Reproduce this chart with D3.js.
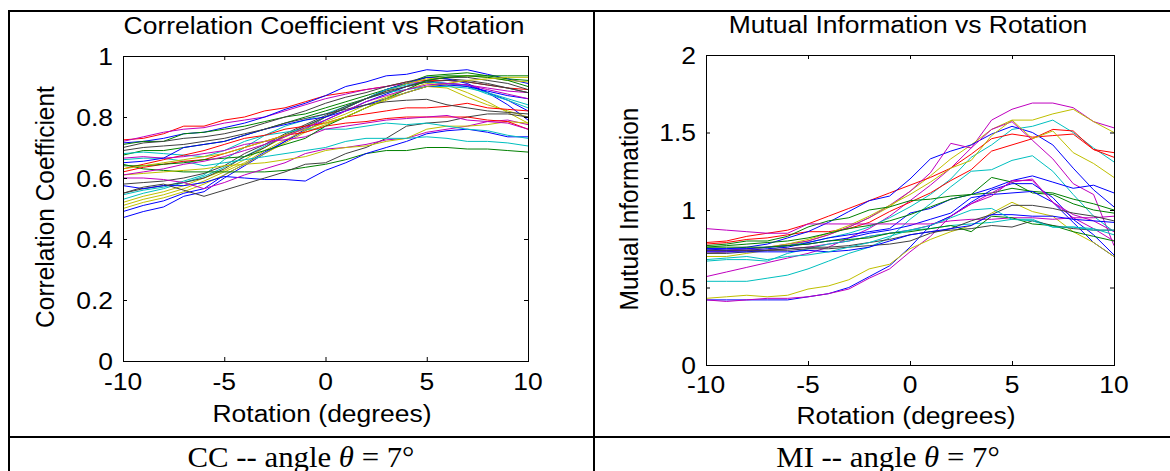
<!DOCTYPE html>
<html>
<head>
<meta charset="utf-8">
<script src="https://cdnjs.cloudflare.com/ajax/libs/d3/7.8.5/d3.min.js"></script>
<style>
  body { margin: 0; background: #fff; }
  svg { display: block; }
  .sans { font-family: Arial, "Liberation Sans", sans-serif; fill: #000; }
  .serif { font-family: "Times New Roman", "Liberation Serif", serif; fill: #000; }
</style>
</head>
<body>
<div id="chart"></div>
<script>
// x positions shared by every curve (degrees)
var rotation = [-10, -9, -8, -7, -6, -5, -4, -3, -2, -1, 0, 1, 2, 3, 4, 5, 6, 7, 8, 9, 10];
var xTicks = [-10, -5, 0, 5, 10];
var ccTicks = [0, 0.2, 0.4, 0.6, 0.8, 1];
var miTicks = [0, 0.5, 1, 1.5, 2];

// Correlation coefficient curves
var cc01 = [0.725,0.73,0.745,0.77,0.77,0.79,0.80,0.82,0.83,0.85,0.87,0.88,0.89,0.90,0.915,0.92,0.92,0.915,0.905,0.895,0.89];
var cc02 = [0.72,0.735,0.75,0.76,0.765,0.78,0.79,0.80,0.82,0.84,0.86,0.875,0.89,0.90,0.91,0.915,0.91,0.905,0.895,0.885,0.88];
var cc03 = [0.715,0.72,0.73,0.745,0.75,0.765,0.78,0.80,0.825,0.845,0.87,0.90,0.915,0.935,0.94,0.955,0.95,0.955,0.94,0.925,0.91];
var cc04 = [0.71,0.72,0.72,0.745,0.75,0.76,0.77,0.785,0.80,0.81,0.83,0.85,0.87,0.89,0.91,0.935,0.94,0.945,0.935,0.925,0.92];
var cc05 = [0.70,0.715,0.72,0.73,0.735,0.745,0.76,0.78,0.80,0.82,0.845,0.865,0.88,0.90,0.915,0.93,0.925,0.92,0.91,0.895,0.88];
var cc06 = [0.675,0.69,0.69,0.70,0.71,0.72,0.74,0.76,0.78,0.80,0.82,0.84,0.86,0.89,0.91,0.93,0.935,0.935,0.935,0.935,0.935];
var cc07 = [0.47,0.49,0.505,0.54,0.555,0.60,0.64,0.68,0.72,0.76,0.80,0.83,0.86,0.89,0.91,0.93,0.925,0.91,0.88,0.855,0.82];
var cc08 = [0.49,0.51,0.525,0.55,0.565,0.61,0.645,0.685,0.72,0.755,0.79,0.82,0.85,0.875,0.90,0.915,0.91,0.905,0.88,0.84,0.79];
var cc09 = [0.50,0.52,0.535,0.555,0.58,0.61,0.645,0.68,0.715,0.75,0.775,0.80,0.83,0.855,0.88,0.90,0.895,0.865,0.84,0.82,0.80];
var cc10 = [0.51,0.53,0.545,0.565,0.59,0.62,0.65,0.69,0.725,0.755,0.785,0.81,0.84,0.865,0.89,0.91,0.905,0.88,0.85,0.815,0.78];
var cc11 = [0.52,0.54,0.555,0.575,0.60,0.625,0.66,0.70,0.735,0.765,0.80,0.83,0.86,0.885,0.91,0.925,0.93,0.935,0.93,0.92,0.915];
var cc12 = [0.53,0.55,0.565,0.585,0.605,0.635,0.67,0.705,0.74,0.77,0.80,0.83,0.86,0.89,0.905,0.915,0.91,0.90,0.875,0.855,0.83];
var cc13 = [0.545,0.56,0.57,0.59,0.61,0.66,0.70,0.74,0.77,0.79,0.81,0.835,0.86,0.88,0.89,0.90,0.90,0.895,0.88,0.86,0.84];
var cc14 = [0.55,0.565,0.575,0.585,0.60,0.63,0.67,0.70,0.74,0.77,0.80,0.83,0.86,0.88,0.90,0.92,0.93,0.93,0.92,0.91,0.89];
var cc15 = [0.58,0.585,0.59,0.60,0.615,0.64,0.68,0.71,0.745,0.775,0.805,0.835,0.86,0.885,0.90,0.915,0.92,0.915,0.905,0.895,0.88];
var cc16 = [0.645,0.63,0.625,0.62,0.62,0.62,0.62,0.62,0.625,0.635,0.645,0.66,0.68,0.69,0.69,0.70,0.70,0.695,0.695,0.69,0.685];
var cc17 = [0.575,0.565,0.575,0.575,0.585,0.605,0.60,0.595,0.595,0.59,0.625,0.65,0.68,0.70,0.72,0.745,0.755,0.76,0.75,0.735,0.735];
var cc18 = [0.55,0.57,0.58,0.56,0.54,0.56,0.58,0.60,0.62,0.645,0.65,0.68,0.70,0.73,0.77,0.78,0.785,0.80,0.81,0.81,0.80];
var cc19 = [0.60,0.60,0.595,0.585,0.565,0.585,0.61,0.63,0.65,0.68,0.695,0.70,0.71,0.725,0.73,0.75,0.76,0.77,0.785,0.79,0.775];
var cc20 = [0.61,0.615,0.62,0.625,0.63,0.64,0.645,0.65,0.66,0.67,0.69,0.70,0.705,0.72,0.73,0.76,0.77,0.77,0.775,0.785,0.78];
var cc21 = [0.66,0.665,0.665,0.655,0.64,0.65,0.66,0.67,0.68,0.69,0.70,0.72,0.73,0.73,0.73,0.735,0.73,0.72,0.72,0.715,0.705];
var cc22 = [0.68,0.685,0.68,0.675,0.67,0.69,0.72,0.74,0.75,0.76,0.76,0.76,0.77,0.78,0.775,0.78,0.77,0.76,0.755,0.74,0.73];
var cc23 = [0.62,0.635,0.645,0.655,0.66,0.68,0.70,0.72,0.74,0.75,0.77,0.78,0.785,0.795,0.80,0.80,0.80,0.80,0.79,0.785,0.76];
var cc24 = [0.63,0.645,0.66,0.675,0.69,0.71,0.73,0.74,0.76,0.77,0.78,0.80,0.81,0.82,0.83,0.83,0.835,0.845,0.83,0.825,0.82];
var cc25 = [0.665,0.67,0.665,0.67,0.68,0.69,0.71,0.72,0.725,0.735,0.76,0.77,0.78,0.79,0.795,0.80,0.805,0.79,0.785,0.78,0.76];
var cc26 = [0.65,0.655,0.665,0.70,0.71,0.72,0.74,0.76,0.775,0.79,0.80,0.82,0.84,0.86,0.88,0.90,0.905,0.90,0.885,0.87,0.86];
var cc27 = [0.69,0.70,0.705,0.71,0.72,0.73,0.745,0.76,0.78,0.795,0.81,0.825,0.84,0.85,0.855,0.858,0.84,0.83,0.82,0.815,0.81];
var cc28 = [0.64,0.64,0.645,0.65,0.66,0.665,0.67,0.69,0.71,0.73,0.77,0.80,0.83,0.86,0.89,0.92,0.93,0.935,0.93,0.92,0.90];
var cc29 = [0.63,0.64,0.65,0.66,0.67,0.68,0.70,0.72,0.74,0.76,0.78,0.80,0.83,0.86,0.88,0.90,0.91,0.92,0.925,0.93,0.93];
var cc30 = [0.61,0.62,0.63,0.645,0.655,0.67,0.69,0.71,0.735,0.765,0.79,0.82,0.85,0.87,0.89,0.905,0.91,0.905,0.89,0.875,0.86];
var ccSeries = [cc01,cc02,cc03,cc04,cc05,cc06,cc07,cc08,cc09,cc10,cc11,cc12,cc13,cc14,cc15,
                cc16,cc17,cc18,cc19,cc20,cc21,cc22,cc23,cc24,cc25,cc26,cc27,cc28,cc29,cc30];
var ccColorCodes = ['r','m','b','g','k','g','b','b','y','y','y','c','c','k','k',
                    'g','b','k','m','y','c','c','r','r','m','b','k','g','y','m'];

// Mutual information curves
var mi01 = [0.57,0.60,0.63,0.66,0.69,0.72,0.76,0.82,0.88,0.96,1.06,1.16,1.27,1.40,1.58,1.65,1.69,1.69,1.66,1.57,1.53];
var mi02 = [0.70,0.70,0.72,0.74,0.77,0.80,0.84,0.89,0.95,1.02,1.12,1.22,1.33,1.42,1.52,1.58,1.58,1.62,1.65,1.57,1.50];
var mi03 = [0.74,0.74,0.75,0.76,0.77,0.79,0.82,0.85,0.89,0.95,1.02,1.10,1.20,1.34,1.42,1.52,1.54,1.58,1.50,1.40,1.31];
var mi04 = [0.79,0.80,0.83,0.85,0.87,0.91,0.96,1.01,1.06,1.11,1.16,1.21,1.27,1.36,1.46,1.49,1.47,1.48,1.49,1.39,1.37];
var mi05 = [0.78,0.79,0.81,0.82,0.84,0.86,0.86,0.88,0.92,0.99,1.05,1.11,1.19,1.26,1.38,1.42,1.46,1.52,1.51,1.39,1.34];
var mi06 = [0.75,0.75,0.76,0.78,0.82,0.86,0.92,0.99,1.06,1.09,1.20,1.33,1.38,1.42,1.49,1.54,1.50,1.42,1.27,1.13,1.02];
var mi07 = [0.74,0.74,0.75,0.76,0.78,0.80,0.84,0.89,0.95,1.03,1.12,1.24,1.43,1.40,1.52,1.57,1.45,1.33,1.17,1.10,0.77];
var mi08 = [0.72,0.73,0.74,0.76,0.78,0.81,0.85,0.90,0.96,1.03,1.10,1.18,1.27,1.32,1.48,1.58,1.46,1.51,1.37,1.30,1.21];
var mi09 = [0.54,0.54,0.54,0.56,0.58,0.62,0.67,0.72,0.76,0.82,0.94,1.04,1.15,1.25,1.26,1.32,1.35,1.25,1.10,0.96,0.86];
var mi10 = [0.75,0.74,0.74,0.75,0.76,0.79,0.82,0.84,0.86,0.88,0.98,1.01,1.07,1.10,1.14,1.19,1.22,1.18,1.14,1.16,1.11];
var mi11 = [0.76,0.77,0.78,0.79,0.80,0.82,0.85,0.88,0.90,0.93,0.97,1.02,1.07,1.10,1.21,1.18,1.11,1.10,1.04,1.00,0.98];
var mi12 = [0.77,0.78,0.80,0.80,0.83,0.89,0.93,0.95,1.00,1.02,1.06,1.07,1.09,1.10,1.11,1.14,1.12,1.11,1.07,1.04,1.00];
var mi13 = [0.75,0.75,0.75,0.76,0.77,0.78,0.80,0.82,0.85,0.87,0.90,0.94,0.98,1.08,1.10,1.11,1.12,1.05,0.92,0.79,0.70];
var mi14 = [0.73,0.73,0.74,0.74,0.75,0.76,0.78,0.80,0.83,0.85,0.87,0.90,0.96,1.04,1.09,1.19,1.19,1.05,0.95,0.88,0.80];
var mi15 = [0.42,0.42,0.42,0.42,0.42,0.44,0.46,0.50,0.57,0.64,0.76,0.90,0.96,1.05,1.13,1.17,1.17,1.08,0.94,0.84,0.71];
var mi16 = [0.42,0.41,0.42,0.43,0.43,0.44,0.46,0.49,0.56,0.62,0.73,0.83,0.96,1.04,1.11,1.18,1.20,1.05,0.97,0.93,0.86];
var mi17 = [0.43,0.44,0.45,0.44,0.45,0.49,0.51,0.55,0.62,0.65,0.75,0.81,0.86,0.90,0.98,1.05,0.99,0.96,0.86,0.79,0.70];
var mi18 = [0.88,0.87,0.86,0.85,0.85,0.91,0.91,0.91,0.91,0.91,0.91,0.91,0.93,0.94,0.94,0.95,0.95,0.94,0.95,0.95,0.96];
var mi19 = [0.67,0.68,0.68,0.67,0.72,0.75,0.78,0.80,0.83,0.85,0.87,0.88,0.90,0.91,0.92,0.94,0.94,0.89,0.89,0.88,0.84];
var mi20 = [0.74,0.74,0.74,0.74,0.74,0.75,0.75,0.76,0.77,0.78,0.80,0.85,0.88,0.93,0.97,1.03,1.03,1.01,0.98,0.96,0.93];
var mi21 = [0.72,0.72,0.73,0.74,0.75,0.76,0.76,0.77,0.79,0.81,0.84,0.86,0.87,0.88,0.90,0.89,0.93,0.90,0.88,0.87,0.87];
var mi22 = [0.76,0.76,0.76,0.76,0.77,0.78,0.80,0.81,0.82,0.85,0.86,0.88,0.90,0.86,0.96,0.95,0.91,0.90,0.86,0.83,0.80];
var mi23 = [0.73,0.73,0.73,0.73,0.73,0.74,0.73,0.74,0.76,0.80,0.84,0.86,0.88,0.90,0.97,0.97,0.96,0.96,0.94,0.93,0.92];
var mi24 = [0.68,0.69,0.70,0.68,0.70,0.71,0.73,0.76,0.79,0.83,0.87,0.90,0.95,1.00,1.01,0.94,0.93,0.89,0.89,0.87,0.87];
var miSeries = [mi01,mi02,mi03,mi04,mi05,mi06,mi07,mi08,mi09,mi10,mi11,mi12,
                mi13,mi14,mi15,mi16,mi17,mi18,mi19,mi20,mi21,mi22,mi23,mi24];
var miColorCodes = ['m','y','c','r','r','b','m','y','c','b','g','g',
                    'b','m','b','m','y','m','c','k','k','g','b','c'];

// MATLAB's line colour order
var matlabColors = {
  b: '#0000ff', g: '#008000', r: '#ff0000', c: '#00bfbf',
  m: '#bf00bf', y: '#bfbf00', k: '#404040'
};

// the picture is slightly stretched sideways, so text is too
var STRETCH = 1.08;

var svg = d3.select('#chart').append('svg')
  .attr('width', 1170)
  .attr('height', 471);
svg.append('rect').attr('width', 1170).attr('height', 471).attr('fill', '#fff');

function addText(parent, x, y, str, anchor, cls, size, rotate) {
  return parent.append('text')
    .attr('class', cls)
    .attr('font-size', size)
    .attr('text-anchor', anchor)
    .attr('transform', 'translate(' + x + ',' + y + ') scale(' + STRETCH + ',1)' + (rotate ? ' rotate(-90)' : ''))
    .text(str);
}

// Table grid around the two figures
var grid = svg.append('g').attr('stroke', '#000').attr('stroke-width', 2);
grid.append('line').attr('x1', 8).attr('x2', 1170).attr('y1', 11).attr('y2', 11);
grid.append('line').attr('x1', 9).attr('x2', 9).attr('y1', 10).attr('y2', 471);
grid.append('line').attr('x1', 594).attr('x2', 594).attr('y1', 10).attr('y2', 471);
grid.append('line').attr('x1', 8).attr('x2', 1170).attr('y1', 437).attr('y2', 437);

// One MATLAB-style panel
var Panel = function (props) {
  this.series = props.series;
  this.colors = props.colors;
  this.box = props.box;
  this.yDomain = props.yDomain;
  this.yTicks = props.yTicks;
  this.title = props.title;
  this.ylabel = props.ylabel;
  this.pos = props.pos;
  this.draw();
};
Panel.prototype.draw = function () {
  var b = this.box, p = this.pos, that = this;
  var fs = 24.5;

  this.xScale = d3.scaleLinear().domain([-10, 10]).range([b.left, b.right]);
  this.yScale = d3.scaleLinear().domain(this.yDomain).range([b.bottom, b.top]);

  var g = svg.append('g');

  // curves
  var line = d3.line()
    .x(function (d, i) { return that.xScale(rotation[i]); })
    .y(function (d) { return that.yScale(d); });
  g.append('g')
    .selectAll('path')
    .data(this.series).enter()
    .append('path')
    .attr('d', line)
    .attr('fill', 'none')
    .attr('stroke-width', 1)
    .attr('stroke', function (d, i) { return matlabColors[that.colors[i]]; });

  // inward ticks on all four sides
  function noDomain(sel) { sel.select('.domain').remove(); }
  g.append('g').attr('transform', 'translate(0,' + b.bottom + ')')
    .call(d3.axisBottom(this.xScale).tickValues(xTicks).tickSize(-4).tickSizeOuter(0).tickFormat(''))
    .call(noDomain);
  g.append('g').attr('transform', 'translate(0,' + b.top + ')')
    .call(d3.axisTop(this.xScale).tickValues(xTicks).tickSize(-4).tickSizeOuter(0).tickFormat(''))
    .call(noDomain);
  g.append('g').attr('transform', 'translate(' + b.left + ',0)')
    .call(d3.axisLeft(this.yScale).tickValues(this.yTicks).tickSize(-4).tickSizeOuter(0).tickFormat(''))
    .call(noDomain);
  g.append('g').attr('transform', 'translate(' + b.right + ',0)')
    .call(d3.axisRight(this.yScale).tickValues(this.yTicks).tickSize(-4).tickSizeOuter(0).tickFormat(''))
    .call(noDomain);

  // axes box
  g.append('rect')
    .attr('x', b.left + 0.5).attr('y', b.top + 0.5)
    .attr('width', b.right - b.left).attr('height', b.bottom - b.top)
    .attr('fill', 'none').attr('stroke', '#000').attr('stroke-width', 1);

  // tick labels
  xTicks.forEach(function (t) {
    addText(g, that.xScale(t), b.bottom + p.xTickDy, String(t), 'middle', 'sans', fs);
  });
  this.yTicks.forEach(function (t) {
    addText(g, b.left - 10, that.yScale(t) + 8.5, String(t), 'end', 'sans', fs);
  });

  // titles
  addText(g, p.titleX, p.titleY, this.title, 'middle', 'sans', fs);
  addText(g, p.xlabelX, p.xlabelY, 'Rotation (degrees)', 'middle', 'sans', fs);
  addText(g, p.ylabelX, p.ylabelY, this.ylabel, 'middle', 'sans', fs, true);

  // caption row below
  var cap = g.append('text')
    .attr('class', 'serif')
    .attr('font-size', 28.5)
    .attr('text-anchor', 'middle')
    .attr('transform', 'translate(' + p.captionX + ',467) scale(' + STRETCH + ',1)');
  cap.append('tspan').text(p.captionPrefix + ' -- angle ');
  cap.append('tspan').attr('font-style', 'italic').text('\u03b8');
  cap.append('tspan').text(' = 7\u00b0');
};

new Panel({
  series: ccSeries,
  colors: ccColorCodes,
  box: {left: 123, right: 528, top: 56, bottom: 361},
  yDomain: [0, 1],
  yTicks: ccTicks,
  title: 'Correlation Coefficient vs Rotation',
  ylabel: 'Correlation Coefficient',
  pos: {xTickDy: 29, titleX: 324, titleY: 34, xlabelX: 322, xlabelY: 422,
        ylabelX: 54, ylabelY: 207, captionX: 301, captionPrefix: 'CC'}
});

new Panel({
  series: miSeries,
  colors: miColorCodes,
  box: {left: 706, right: 1114, top: 55, bottom: 365},
  yDomain: [0, 2],
  yTicks: miTicks,
  title: 'Mutual Information vs Rotation',
  ylabel: 'Mutual Information',
  pos: {xTickDy: 28, titleX: 908, titleY: 33, xlabelX: 906, xlabelY: 424,
        ylabelX: 638, ylabelY: 209, captionX: 888, captionPrefix: 'MI'}
});
</script>
</body>
</html>
